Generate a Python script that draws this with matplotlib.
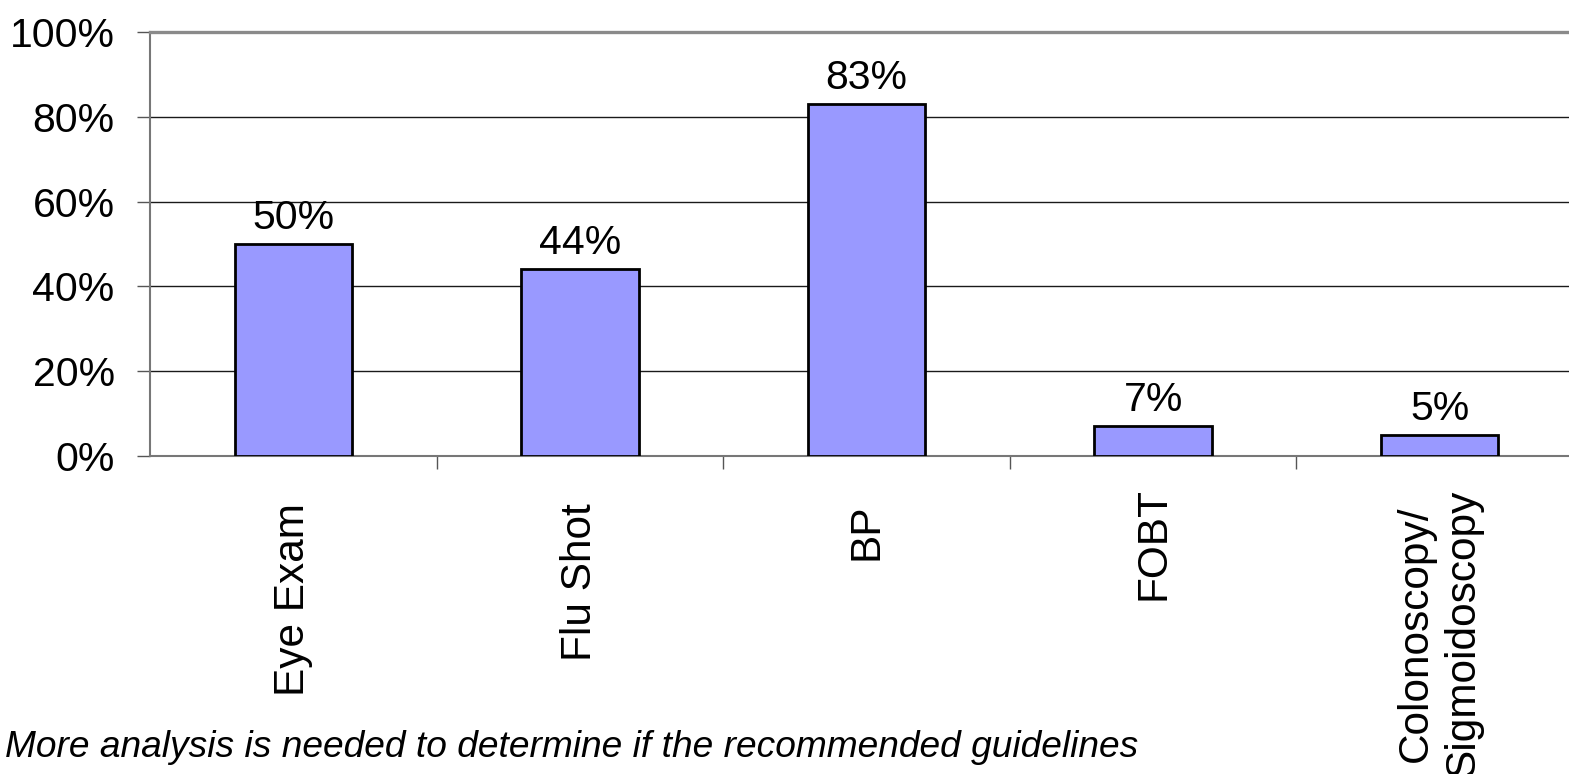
import matplotlib
matplotlib.use('Agg')
import matplotlib.pyplot as plt
from matplotlib.ticker import FuncFormatter

plt.rcParams['font.family'] = ['Liberation Sans', 'DejaVu Sans']

# screening rates by service
categories = ['Eye Exam', 'Flu Shot', 'BP', 'FOBT', 'Colonoscopy/\nSigmoidoscopy']
rates = [50, 44, 83, 7, 5]
y_ticks = [0, 20, 40, 60, 80, 100]
footnote = 'More analysis is needed to determine if the recommended guidelines'

W, H = 1569, 774
fig = plt.figure(figsize=(W / 100, H / 100), dpi=100)
# plot area runs a little past the right edge of the canvas
ax = fig.add_axes([150 / W, (H - 456) / H, 1433 / W, 424 / H])

x = range(len(categories))
ax.bar(x, rates, width=0.41, color='#9999ff', edgecolor='black', linewidth=2.0, zorder=3)
ax.set_xlim(-0.5, len(categories) - 0.5)
ax.set_ylim(0, 100)

# horizontal gridlines (the 100% line is the grey top border)
for v in y_ticks[1:-1]:
    ax.axhline(v, color='#1a1a1a', linewidth=1.0, zorder=1)

for side in ['left', 'bottom']:
    ax.spines[side].set_color('#777777')
    ax.spines[side].set_linewidth(1.5)
ax.spines['top'].set_color('#8a8a8a')
ax.spines['top'].set_linewidth(2.4)
ax.spines['right'].set_visible(False)

ax.set_yticks(y_ticks)
ax.yaxis.set_major_formatter(FuncFormatter(lambda v, _: f'{v:.0f}%'))
ax.tick_params(axis='y', length=9.4, width=1, color='#555555', pad=16, labelsize=29.5)

# x ticks sit between the categories
ax.set_xticks([i + 0.5 for i in range(len(categories) - 1)])
ax.set_xticklabels([])
ax.tick_params(axis='x', length=9.4, width=1, color='#555555')

for i, v in enumerate(rates):
    ax.annotate(f'{v}%', xy=(i, v), xytext=(0, 10.8), textcoords='offset points',
                ha='center', va='baseline', fontsize=29.5)

# category names, rotated and hung below the axis
label_drop = [47, 47, 47, 31, 34]
for i, (name, d) in enumerate(zip(categories, label_drop)):
    ax.annotate(name, xy=(i, 0), xycoords=('data', 'axes fraction'),
                xytext=(0, -d * 0.72), textcoords='offset points',
                rotation=90, ha='center', va='top', multialignment='center',
                linespacing=1.25, fontsize=30.5, annotation_clip=False)

fig.text(5 / W, (H - 757) / H, footnote, fontsize=26.7, style='italic', va='baseline')

fig.savefig('out.png', dpi=100)
